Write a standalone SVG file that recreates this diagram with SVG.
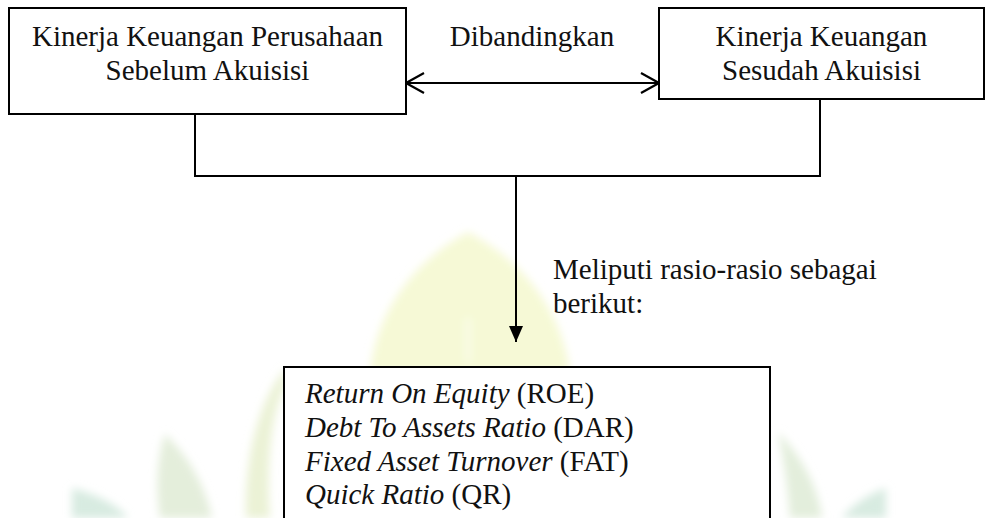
<svg xmlns="http://www.w3.org/2000/svg" width="988" height="518" viewBox="0 0 988 518">
  <style>
    .box { fill: #fff; stroke: #000; stroke-width: 2; }
    .t { font-family: "Liberation Serif", "Times New Roman", "DejaVu Serif", serif; font-size: 29px; fill: #111; }
    .c { text-anchor: middle; }
    .i { font-style: italic; }
    .ln { fill: none; stroke: #000; stroke-width: 2; }
    .wm { stroke: none; }
  </style>
  <defs>
    <marker id="open" viewBox="0 0 20 24" refX="19" refY="12" markerWidth="20" markerHeight="24" markerUnits="userSpaceOnUse" orient="auto-start-reverse">
      <path d="M1,2 L19,12 L1,22" fill="none" stroke="#000" stroke-width="2.2"/>
    </marker>
    <marker id="solid" viewBox="0 0 16 14" refX="16" refY="7" markerWidth="16" markerHeight="14" markerUnits="userSpaceOnUse" orient="auto">
      <path d="M0,0 L16,7 L0,14 Z" fill="#000"/>
    </marker>
    <filter id="soft" x="-20%" y="-20%" width="140%" height="140%">
      <feGaussianBlur stdDeviation="4"/>
    </filter>
  </defs>

  <rect width="988" height="518" fill="#fff"/>

  <g id="watermark" filter="url(#soft)">
    <path class="wm" d="M370,372 C378,300 425,255 468,232 C512,255 560,300 570,372 Z" fill="#f6f9d6"/>
    <path class="wm" d="M466,318 L470,318 L470,362 L466,362 Z" fill="#fbfcef"/>
    <path class="wm" d="M286,368 C262,395 244,450 246,518 L270,518 C266,460 272,410 286,385 Z" fill="#ebf2d6"/>
    <path class="wm" d="M165,434 C156,462 156,492 160,518 L212,518 C206,490 192,460 165,434 Z" fill="#e4eedb"/>
    <path class="wm" d="M72,488 L72,518 L128,518 C118,505 96,494 72,488 Z" fill="#d8ebe1"/>
    <path class="wm" d="M778,432 C800,455 818,485 822,518 L790,518 C788,490 784,460 778,432 Z" fill="#e3eedc"/>
    <path class="wm" d="M886,488 L886,518 L842,518 C852,505 868,494 886,488 Z" fill="#d8ebe1"/>
  </g>

  <g id="node-before">
    <rect class="box" x="9" y="8" width="397" height="106"/>
    <text class="t c" x="207.5" y="46">Kinerja Keuangan Perusahaan</text>
    <text class="t c" x="207.5" y="80">Sebelum Akuisisi</text>
  </g>

  <g id="node-after">
    <rect class="box" x="659" y="8" width="325" height="91"/>
    <text class="t c" x="821.5" y="46">Kinerja Keuangan</text>
    <text class="t c" x="821.5" y="80">Sesudah Akuisisi</text>
  </g>

  <g id="label-compare">
    <text class="t c" x="532" y="46">Dibandingkan</text>
  </g>

  <g id="label-ratios">
    <text class="t" x="553" y="279">Meliputi rasio-rasio sebagai</text>
    <text class="t" x="553" y="313">berikut:</text>
  </g>

  <g id="node-ratios">
    <rect class="box" x="284" y="367" width="486" height="200"/>
    <text class="t" x="305" y="403"><tspan class="i">Return On Equity</tspan> (ROE)</text>
    <text class="t" x="305" y="437"><tspan class="i">Debt To Assets Ratio</tspan> (DAR)</text>
    <text class="t" x="305" y="471"><tspan class="i">Fixed Asset Turnover</tspan> (FAT)</text>
    <text class="t" x="305" y="504"><tspan class="i">Quick Ratio</tspan> (QR)</text>
  </g>

  <g id="connectors">
    <line class="ln" x1="406" y1="83" x2="659" y2="83" marker-start="url(#open)" marker-end="url(#open)"/>
    <polyline class="ln" points="195,114 195,176 820,176 820,99"/>
    <line class="ln" x1="516" y1="176" x2="516" y2="342" marker-end="url(#solid)"/>
  </g>
</svg>
